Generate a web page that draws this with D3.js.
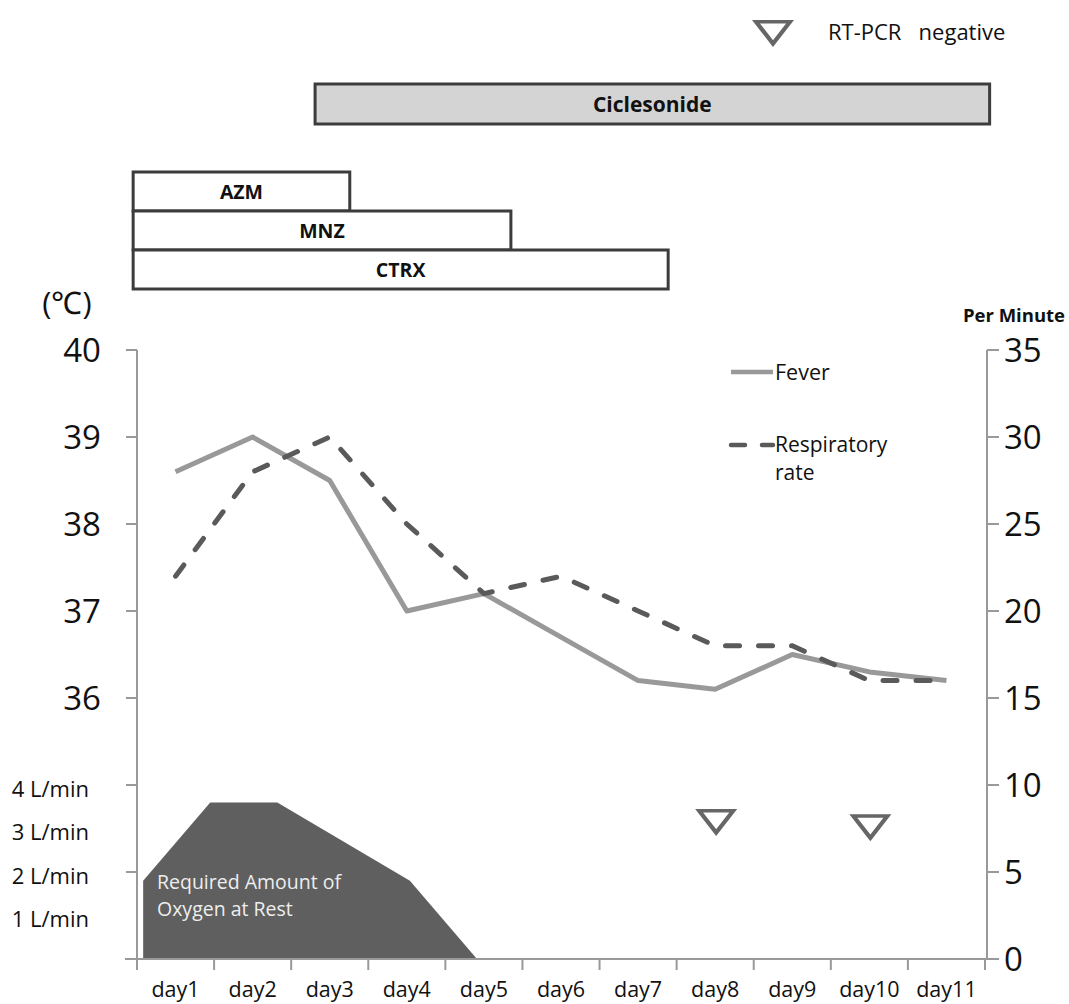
<html>
<head>
    <script src="https://d3js.org/d3.v7.min.js"></script>
    <style>
        body { margin: 0; background: #fff; }
        text { font-family: "Open Sans", sans-serif; }
    </style>
</head>
<body>
    <svg id="chart"></svg>
    <script>
        var W = 1069, H = 1004;
        var Days = ["day1","day2","day3","day4","day5","day6","day7","day8","day9","day10","day11"];
        var Fever = [38.6, 39.0, 38.5, 37.0, 37.2, 36.7, 36.2, 36.1, 36.5, 36.3, 36.2];
        var RespRate = [22, 28, 30, 25, 21, 22, 20, 18, 18, 16, 16];
        var TempTicks = [36, 37, 38, 39, 40];
        var RateTicks = [0, 5, 10, 15, 20, 25, 30, 35];
        var OxyLabels = ["1 L/min", "2 L/min", "3 L/min", "4 L/min"];
        // oxygen flow, t in day units from the left edge of the plot
        var OxyT = [0.08, 0.08, 0.95, 1.82, 3.54, 4.41];
        var OxyV = [0, 1.8, 3.6, 3.6, 1.8, 0];
        // drugs, start / end in day units
        var Drugs = ["AZM", "MNZ", "CTRX"];
        var DrugStart = [-0.05, -0.05, -0.05];
        var DrugEnd = [2.76, 4.85, 6.89];
        var Steroid = {name: "Ciclesonide", start: 2.31, end: 11.06};
        var PcrNegative = [{day: "day8", v: 8.1}, {day: "day10", v: 7.8}];

        var pLeft = 137, pRight = 985, pTop = 350, pBottom = 959;

        var svg = d3.select("#chart").attr("width", W).attr("height", H);

        var x = d3.scaleBand().domain(Days).range([pLeft, pRight]);
        var xd = d3.scaleLinear().domain([0, Days.length]).range([pLeft, pRight]);
        var yT = d3.scaleLinear().domain([33, 40]).range([pBottom, pTop]);
        var yR = d3.scaleLinear().domain([0, 35]).range([pBottom, pTop]);
        var yO = d3.scaleLinear().domain([0, 4]).range([pBottom, yT(35)]);
        var cx = function(d){ return x(d) + x.bandwidth()/2; };

        // oxygen area
        var oxy = OxyT.map(function(t, i){ return {t: t, v: OxyV[i]}; });
        svg.append("path")
            .datum(oxy)
            .attr("fill", "#5f5f5f")
            .attr("d", d3.area()
                .x(function(d){ return xd(d.t); })
                .y0(yO(0))
                .y1(function(d){ return yO(d.v); }));
        svg.append("text").attr("x", 157).attr("y", 889)
            .attr("fill", "#eeeeee").attr("font-size", 19.5).text("Required Amount of");
        svg.append("text").attr("x", 157).attr("y", 916)
            .attr("fill", "#eeeeee").attr("font-size", 19.5).text("Oxygen at Rest");

        // axes
        var axisColor = "#999999";
        svg.append("line").attr("x1", pLeft).attr("x2", pLeft).attr("y1", pTop).attr("y2", pBottom)
            .attr("stroke", axisColor).attr("stroke-width", 2);
        svg.append("line").attr("x1", pRight + 2).attr("x2", pRight + 2).attr("y1", pTop).attr("y2", pBottom)
            .attr("stroke", axisColor).attr("stroke-width", 2);
        svg.append("line").attr("x1", pLeft - 12).attr("x2", pRight + 14).attr("y1", pBottom).attr("y2", pBottom)
            .attr("stroke", axisColor).attr("stroke-width", 2);

        svg.selectAll(".ltick").data(d3.range(33, 41)).enter().append("line")
            .attr("x1", pLeft - 11).attr("x2", pLeft)
            .attr("y1", function(d){ return yT(d); }).attr("y2", function(d){ return yT(d); })
            .attr("stroke", axisColor).attr("stroke-width", 2);
        svg.selectAll(".rtick").data(RateTicks).enter().append("line")
            .attr("x1", pRight + 2).attr("x2", pRight + 14)
            .attr("y1", function(d){ return yR(d); }).attr("y2", function(d){ return yR(d); })
            .attr("stroke", axisColor).attr("stroke-width", 2);
        svg.selectAll(".xtick").data(d3.range(0, Days.length + 1)).enter().append("line")
            .attr("x1", function(d){ return xd(d); }).attr("x2", function(d){ return xd(d); })
            .attr("y1", pBottom).attr("y2", pBottom + 11)
            .attr("stroke", axisColor).attr("stroke-width", 2);

        svg.selectAll(".tlabel").data(TempTicks).enter().append("text")
            .attr("x", 101).attr("y", function(d){ return yT(d); })
            .attr("dy", "0.36em").attr("text-anchor", "end")
            .attr("font-size", 33).attr("fill", "#111").text(function(d){ return d; });
        svg.selectAll(".rlabel").data(RateTicks).enter().append("text")
            .attr("x", 1004).attr("y", function(d){ return yR(d); })
            .attr("dy", "0.36em")
            .attr("font-size", 33).attr("fill", "#111").text(function(d){ return d; });
        svg.selectAll(".olabel").data(OxyLabels).enter().append("text")
            .attr("x", 89).attr("y", function(d, i){ return yO(i + 1) + 4; })
            .attr("dy", "0.36em").attr("text-anchor", "end")
            .attr("font-size", 22).attr("fill", "#111").text(function(d){ return d; });
        svg.selectAll(".xlabel").data(Days).enter().append("text")
            .attr("x", function(d){ return cx(d); }).attr("y", 997)
            .attr("text-anchor", "middle")
            .attr("font-size", 21.5).attr("fill", "#111").text(function(d){ return d; });

        svg.append("text").attr("x", 67).attr("y", 314).attr("text-anchor", "middle")
            .attr("font-size", 31).attr("fill", "#111").text("(℃)");
        svg.append("text").attr("x", 1065).attr("y", 322).attr("text-anchor", "end")
            .attr("font-size", 18.5).attr("font-weight", "bold").attr("fill", "#111").text("Per Minute");

        // lines
        svg.append("path").datum(Fever)
            .attr("fill", "none").attr("stroke", "#999999").attr("stroke-width", 5)
            .attr("stroke-linejoin", "round")
            .attr("d", d3.line()
                .x(function(d, i){ return cx(Days[i]); })
                .y(function(d){ return yT(d); }));
        svg.append("path").datum(RespRate)
            .attr("fill", "none").attr("stroke", "#5a5a5a").attr("stroke-width", 5)
            .attr("stroke-dasharray", "14,19").attr("stroke-linecap", "round")
            .attr("d", d3.line()
                .x(function(d, i){ return cx(Days[i]); })
                .y(function(d){ return yR(d); }));

        // legend inside plot
        svg.append("line").attr("x1", 731).attr("x2", 773).attr("y1", 372).attr("y2", 372)
            .attr("stroke", "#999999").attr("stroke-width", 4.5);
        svg.append("text").attr("x", 775).attr("y", 372).attr("dy", "0.36em")
            .attr("font-size", 21.5).attr("fill", "#111").text("Fever");
        svg.append("line").attr("x1", 731).attr("x2", 773).attr("y1", 445).attr("y2", 445)
            .attr("stroke", "#5a5a5a").attr("stroke-width", 4.5)
            .attr("stroke-dasharray", "14,17").attr("stroke-linecap", "round");
        svg.append("text").attr("x", 775).attr("y", 444).attr("dy", "0.36em")
            .attr("font-size", 21).attr("fill", "#111").text("Respiratory");
        svg.append("text").attr("x", 775).attr("y", 472).attr("dy", "0.36em")
            .attr("font-size", 21).attr("fill", "#111").text("rate");

        // RT-PCR negative markers
        var tri = d3.symbol().type(d3.symbolTriangle).size(380);
        svg.selectAll(".pcr").data(PcrNegative).enter().append("path")
            .attr("d", tri)
            .attr("transform", function(d){ return "translate(" + (cx(d.day) + 1) + "," + yR(d.v) + ") rotate(180) scale(1.15,0.85)"; })
            .attr("fill", "white").attr("stroke", "#666666").attr("stroke-width", 4)
            .attr("stroke-linejoin", "miter");
        svg.append("path").attr("d", tri)
            .attr("transform", "translate(773,29) rotate(180) scale(1.15,0.85)")
            .attr("fill", "white").attr("stroke", "#666666").attr("stroke-width", 4);
        svg.append("text").attr("x", 828).attr("y", 32).attr("dy", "0.36em")
            .attr("font-size", 22).attr("fill", "#111").attr("xml:space", "preserve")
            .text("RT-PCR   negative");

        // drug bars
        var rowTop = [172, 211, 250], rowH = 39;
        svg.selectAll(".drug").data(Drugs).enter().append("rect")
            .attr("x", function(d, i){ return xd(DrugStart[i]); })
            .attr("y", function(d, i){ return rowTop[i]; })
            .attr("width", function(d, i){ return xd(DrugEnd[i]) - xd(DrugStart[i]); })
            .attr("height", rowH)
            .attr("fill", "white").attr("stroke", "#3c3c3c").attr("stroke-width", 3);
        svg.selectAll(".druglabel").data(Drugs).enter().append("text")
            .attr("x", function(d, i){ return (xd(DrugStart[i]) + xd(DrugEnd[i])) / 2; })
            .attr("y", function(d, i){ return rowTop[i] + rowH/2; })
            .attr("dy", "0.36em").attr("text-anchor", "middle")
            .attr("font-size", 19.5).attr("font-weight", "bold").attr("fill", "#111")
            .text(function(d){ return d; });
        svg.append("rect")
            .attr("x", xd(Steroid.start)).attr("y", 84)
            .attr("width", xd(Steroid.end) - xd(Steroid.start)).attr("height", 40)
            .attr("fill", "#d4d4d4").attr("stroke", "#3c3c3c").attr("stroke-width", 3);
        svg.append("text")
            .attr("x", (xd(Steroid.start) + xd(Steroid.end)) / 2).attr("y", 104)
            .attr("dy", "0.36em").attr("text-anchor", "middle")
            .attr("font-size", 21).attr("font-weight", "bold").attr("fill", "#111")
            .text(Steroid.name);
    </script>
</body>
</html>
